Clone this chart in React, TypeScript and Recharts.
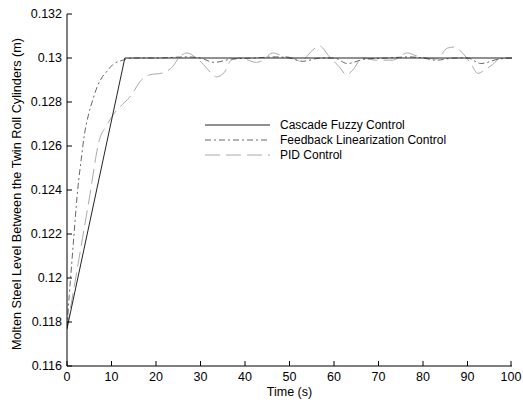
import React from "react";
import { LineChart, Line, XAxis, YAxis } from "recharts";

// time axis / level axis ticks
const xTicks = [0, 10, 20, 30, 40, 50, 60, 70, 80, 90, 100];
const yTicks = [0.116, 0.118, 0.12, 0.122, 0.124, 0.126, 0.128, 0.13, 0.132];

// Cascade Fuzzy Control
const cascadeT = [0, 13, 100];
const cascadeY = [0.1177, 0.13, 0.13];

// Feedback Linearization Control
const feedbackT = [0, 0.5, 1, 1.5, 2.4, 3.2, 3.9, 4.8, 5.8, 6.8, 7.8, 9, 10.3, 12.5, 15, 20, 27, 30, 33, 37, 42, 47, 50, 53, 57, 60, 63, 67, 72, 77, 80, 83, 87, 90, 93, 97, 100];
const feedbackY = [0.1177, 0.1192, 0.1205, 0.1218, 0.124, 0.1254, 0.1265, 0.1274, 0.1281, 0.1287, 0.1291, 0.1294, 0.1297, 0.1299, 0.13, 0.13, 0.13005, 0.13, 0.1298, 0.12995, 0.13, 0.13005, 0.13, 0.12985, 0.13, 0.13, 0.12975, 0.12995, 0.13, 0.13005, 0.13, 0.1299, 0.13, 0.13, 0.12975, 0.12995, 0.13];

// PID Control
const pidT = [0, 2.8, 5, 7.3, 8.8, 10.3, 12.5, 14, 15.2, 16.3, 18.5, 21.5, 23.7, 25.3, 27, 29, 30.2, 32.5, 33.6, 35.4, 36.9, 39, 42.6, 44, 46.2, 48.4, 50.7, 52.5, 55.2, 56.7, 59, 61.2, 62.8, 64.2, 66.4, 69.5, 73.1, 76.5, 78.5, 80.8, 83, 85.5, 87.1, 89, 90.9, 92.3, 93.8, 95.6, 97.6, 100];
const pidY = [0.1177, 0.121, 0.1236, 0.1263, 0.1269, 0.1274, 0.1279, 0.1282, 0.12855, 0.1289, 0.12923, 0.12932, 0.1296, 0.13005, 0.13023, 0.13, 0.1298, 0.1293, 0.12914, 0.12936, 0.1299, 0.13, 0.1298, 0.1299, 0.13023, 0.1301, 0.13, 0.12985, 0.13036, 0.13055, 0.13005, 0.1296, 0.12923, 0.12945, 0.13, 0.1299, 0.1299, 0.13023, 0.1301, 0.13, 0.12995, 0.13045, 0.1305, 0.1302, 0.1297, 0.1293, 0.12945, 0.1297, 0.13, 0.13];

const cascade = cascadeT.map((t, i) => ({ t, v: cascadeY[i] }));
const feedback = feedbackT.map((t, i) => ({ t, v: feedbackY[i] }));
const pid = pidT.map((t, i) => ({ t, v: pidY[i] }));

const font = "'Liberation Sans', Arial, sans-serif";
const fmtY = (v: number) => String(Number(v.toFixed(3)));

const LeftTick = ({ x, y, payload }: any) => (
  <g>
    <line x1={x + 5} x2={x + 10} y1={y} y2={y} stroke="#000" />
    <text x={x} y={y} textAnchor="end" dominantBaseline="central" fontFamily={font} fontSize={12.5} fill="#000">
      {fmtY(payload.value)}
    </text>
  </g>
);

const RightTick = ({ x, y }: any) => <line x1={x} x2={x - 5} y1={y} y2={y} stroke="#000" />;

const BottomTick = ({ x, y, payload }: any) => (
  <g>
    <line x1={x} x2={x} y1={y - 6} y2={y - 11} stroke="#000" />
    <text x={x} y={y} dy="0.71em" textAnchor="middle" fontFamily={font} fontSize={12.5} fill="#000">
      {payload.value}
    </text>
  </g>
);

const TopTick = ({ x, y }: any) => <line x1={x} x2={x} y1={y} y2={y + 5} stroke="#000" />;

const legendItems = [
  { name: "Cascade Fuzzy Control", color: "#222", dash: undefined },
  { name: "Feedback Linearization Control", color: "#666", dash: "6 3 2 3" },
  { name: "PID Control", color: "#aaa", dash: "15 6" },
];

export default function App() {
  return (
    <div style={{ position: "absolute", left: 0, top: 0, width: 523, height: 403, background: "#fff" }}>
      <LineChart width={523} height={403} margin={{ top: 14, right: 11, left: 0, bottom: 0 }}>
        <XAxis
          dataKey="t"
          type="number"
          domain={[0, 100]}
          ticks={xTicks}
          allowDataOverflow
          height={37}
          tickSize={0}
          tickMargin={6}
          tickLine={false}
          axisLine={{ stroke: "#000" }}
          tick={<BottomTick />}
        />
        <XAxis
          xAxisId="top"
          orientation="top"
          type="number"
          domain={[0, 100]}
          ticks={xTicks}
          height={0}
          tickSize={0}
          tickMargin={0}
          tickLine={false}
          axisLine={{ stroke: "#000" }}
          tick={<TopTick />}
        />
        <YAxis
          type="number"
          domain={[0.116, 0.132]}
          ticks={yTicks}
          allowDataOverflow
          width={67}
          tickSize={0}
          tickMargin={5}
          tickLine={false}
          axisLine={{ stroke: "#000" }}
          tick={<LeftTick />}
        />
        <YAxis
          yAxisId="r"
          orientation="right"
          type="number"
          domain={[0.116, 0.132]}
          ticks={yTicks}
          width={0}
          tickSize={0}
          tickMargin={0}
          tickLine={false}
          axisLine={{ stroke: "#000" }}
          tick={<RightTick />}
        />
        <Line data={pid} dataKey="v" type="monotone" stroke="#aaa" strokeWidth={1} strokeDasharray="15 6" dot={false} isAnimationActive={false} />
        <Line data={feedback} dataKey="v" type="monotone" stroke="#666" strokeWidth={1} strokeDasharray="6 3 2 3" dot={false} isAnimationActive={false} />
        <Line data={cascade} dataKey="v" type="linear" stroke="#222" strokeWidth={1} dot={false} isAnimationActive={false} />
      </LineChart>
      <svg width={523} height={403} style={{ position: "absolute", left: 0, top: 0, pointerEvents: "none" }}>
        {legendItems.map((it, i) => (
          <g key={it.name}>
            <line x1={205} x2={270} y1={125 + i * 15} y2={125 + i * 15} stroke={it.color} strokeDasharray={it.dash} />
            <text x={280} y={125 + i * 15} dominantBaseline="central" fontFamily={font} fontSize={12} fill="#000">
              {it.name}
            </text>
          </g>
        ))}
        <text x={289.5} y={392} textAnchor="middle" dominantBaseline="central" fontFamily={font} fontSize={12.5} fill="#000">
          Time (s)
        </text>
        <text
          x={17}
          y={194}
          textAnchor="middle"
          dominantBaseline="central"
          transform="rotate(-90 17 194)"
          fontFamily={font}
          fontSize={12.7}
          fill="#000"
        >
          Molten Steel Level Between the Twin Roll Cylinders (m)
        </text>
      </svg>
    </div>
  );
}
